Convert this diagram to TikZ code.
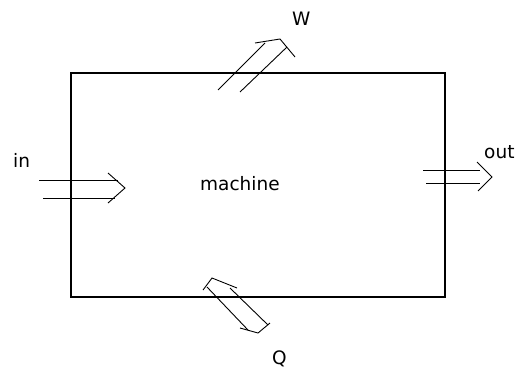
\documentclass[tikz,border=0pt]{standalone}
\usepackage{fontspec}
\setmainfont{DejaVu Sans}
\usetikzlibrary{positioning}
\tikzset{lbl/.style={inner sep=0pt,anchor=base west,font=\fontsize{18.5}{20}\selectfont},shaft/.style={line width=0.9pt},tip/.style={line width=0.9pt,line join=miter}}

\begin{document}
\begin{tikzpicture}[x=1pt,y=-1pt]
\useasboundingbox (0,0) rectangle (516,370);
\node[draw,line width=1.2pt,minimum width=374pt,minimum height=224pt,inner sep=0pt] (box) at (258,185) {};
\node[lbl] (machine) at (200,190) {machine};
\node[lbl] (in) at (13,167) {in};
\node[lbl] (out) at (484,158) {out};
\node[lbl] (w) at (292,25) {W};
\node[lbl] (q) at (272,364) {Q};
% in
\coordinate (inA) at (39,180); \coordinate (inB) at (118,180);
\coordinate (inC) at (43,198); \coordinate (inD) at (115,198);
\coordinate (inT1) at (108,173); \coordinate (inT) at (125,188); \coordinate (inT2) at (108,203);
\draw[shaft] (inA) -- (inB);
\draw[shaft] (inC) -- (inD);
\draw[tip] (inT1) -- (inT) -- (inT2);
% out
\coordinate (outA) at (423,170); \coordinate (outB) at (480,170);
\coordinate (outC) at (426,183); \coordinate (outD) at (480,183);
\coordinate (outT1) at (477,162); \coordinate (outT) at (492,177); \coordinate (outT2) at (478,191);
\draw[shaft] (outA) -- (outB);
\draw[shaft] (outC) -- (outD);
\draw[tip] (outT1) -- (outT) -- (outT2);
% W
\coordinate (wA) at (218,90); \coordinate (wB) at (265,43);
\coordinate (wC) at (240,92); \coordinate (wD) at (287,47);
\coordinate (wT1) at (255,43); \coordinate (wT) at (280,39); \coordinate (wT2) at (295,57);
\draw[shaft] (wA) -- (wB);
\draw[shaft] (wC) -- (wD);
\draw[tip] (wT1) -- (wT) -- (wT2);
% Q
\coordinate (qA) at (207,287); \coordinate (qB) at (248,330);
\coordinate (qC) at (230,288); \coordinate (qD) at (268,325);
\coordinate (qU1) at (203,290); \coordinate (qU) at (212,278); \coordinate (qU2) at (237,288);
\coordinate (qL1) at (240,328); \coordinate (qL) at (258,333); \coordinate (qL2) at (270,323);
\draw[shaft] (qA) -- (qB);
\draw[shaft] (qC) -- (qD);
\draw[tip] (qU1) -- (qU) -- (qU2);
\draw[tip] (qL1) -- (qL) -- (qL2);
\end{tikzpicture}
\end{document}
